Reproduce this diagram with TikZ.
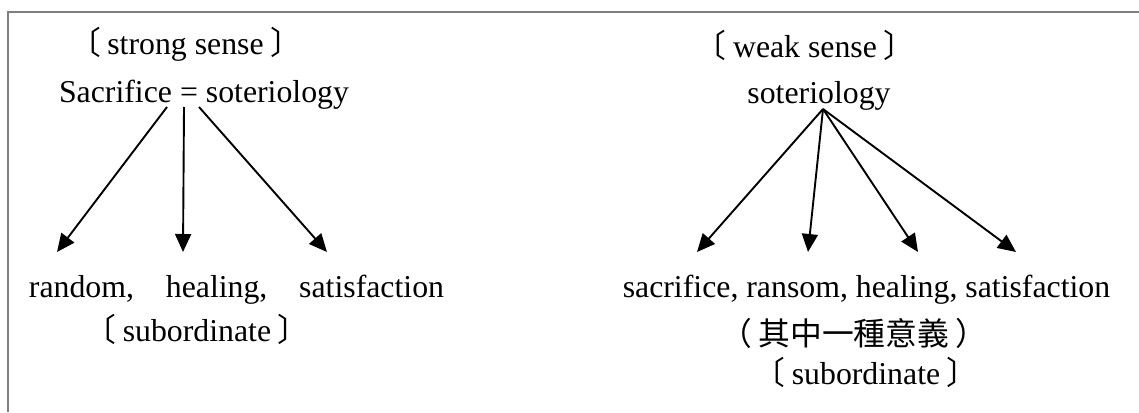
\documentclass[tikz,border=0pt]{standalone}
\usepackage{fontspec}
\setmainfont{Liberation Serif}
\newfontfamily\cjk{Noto Sans CJK TC}
\usepackage{xcolor}
\definecolor{frameGray}{rgb}{0.5, 0.5, 0.5}
\usetikzlibrary{arrows.meta}
\newcommand{\opn}{{\cjk 〔}\hspace{0.2em}}
\newcommand{\cls}{\hspace{0.2em}{\cjk 〕}}
\tikzset{
	lbl/.style={anchor=base, inner sep=0pt, font=\fontsize{31.8}{38}\selectfont},
	arr/.style={-{Triangle[length=18pt, width=16pt]}, line width=1.9pt},
	frame/.style={draw=frameGray, line width=2pt}
}

\begin{document}
\begin{tikzpicture}[x=1pt, y=-1pt]
			\useasboundingbox (0,0) rectangle (1139,412);
			\draw[frame] (1139,12) -- (8,12) -- (8,412); % open frame

			% Strong sense (left)
			\node[lbl] (strongLbl) at (185.5,55) {\opn strong sense\cls};
			\node[lbl] (sacrEq) at (204,102) {Sacrifice = soteriology};
			\node[lbl] (strongList) at (236.5,297) {random,\hspace{1em}healing,\hspace{1em}satisfaction};
			\node[lbl] (strongSub) at (197,341) {\opn subordinate\cls};

			% Weak sense (right)
			\node[lbl] (weakLbl) at (805,57) {\opn weak sense\cls};
			\node[lbl] (soter) at (819,103) {soteriology};
			\node[lbl] (weakList) at (866.5,297) {sacrifice, ransom, healing, satisfaction};
			\node[lbl] (weakZh) at (854,345) {\cjk （\hspace{0.2em}其中一種意義\hspace{0.2em}）};
			\node[lbl] (weakSub) at (866,384) {\opn subordinate\cls};

			% Arrow ends
			\coordinate (sRootA) at (167,107);
			\coordinate (sRootB) at (184,107);
			\coordinate (sRootC) at (199,107);
			\coordinate (sTipA) at (57,252);
			\coordinate (sTipB) at (183,252);
			\coordinate (sTipC) at (327,252);
			\coordinate (wRoot) at (823,109);
			\foreach \tx [count=\i] in {697,808,918,1016}
			\coordinate (wTip\i) at (\tx,252);

			% Draw mappings
			\draw[arr] (sRootA) -- (sTipA);
			\draw[arr] (sRootB) -- (sTipB);
			\draw[arr] (sRootC) -- (sTipC);
			\foreach \i in {1,...,4}
			\draw[arr] (wRoot) -- (wTip\i);
		\end{tikzpicture}
\end{document}
